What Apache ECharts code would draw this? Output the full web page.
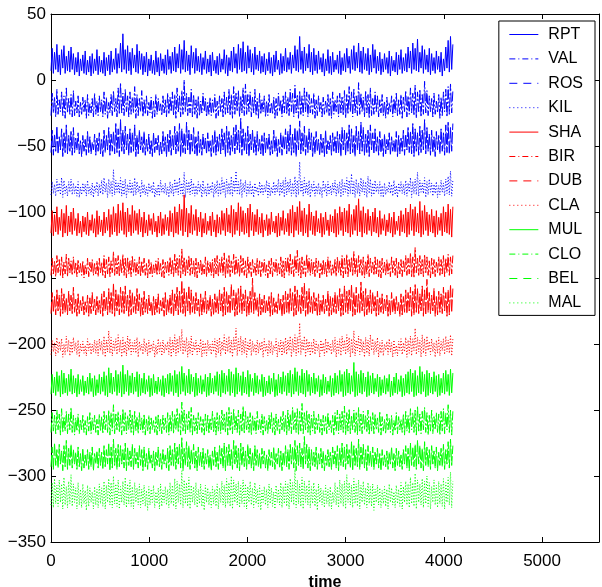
<!DOCTYPE html>
<html>
<head>
<meta charset="utf-8">
<title>Daily wind speed, 12 stations</title>
<script src="https://cdn.jsdelivr.net/npm/echarts@6/dist/echarts.min.js"></script>
<style>
  html, body { margin: 0; padding: 0; background: #fff; }
  #chart { width: 602px; height: 587px; }
</style>
</head>
<body>
<div id="chart"></div>
<script>
// Station names, in plotting order
const stations = ['RPT', 'VAL', 'ROS', 'KIL', 'SHA', 'BIR', 'DUB', 'CLA', 'MUL', 'CLO', 'BEL', 'MAL'];
// Vertical shift applied to each station so the traces do not overlap
const offsets = [0, -30, -60, -90, -120, -150, -180, -210, -240, -270, -300, -330];
// Days between successive samples
const dayStep = 12;

// Wind speed samples (knots) per station
const RPT = [7,24,5,21,8,27,6,19,4,23,9,26,5,18,7,22,6,25,8,20,
4,17,6,21,3,16,7,19,5,22,4,15,6,18,3,20,5,16,7,23,
4,18,6,15,5,21,3,17,7,19,4,22,6,16,8,24,5,20,9,28,
6,35,8,23,5,26,7,21,4,24,9,19,6,27,5,22,8,20,4,18,
6,21,3,16,7,19,5,15,4,22,6,17,3,20,7,16,5,19,4,23,
8,18,5,21,7,25,6,20,9,27,5,23,8,30,6,22,7,19,4,26,
9,21,5,24,7,18,6,20,4,17,8,22,5,16,6,19,3,21,7,15,
5,18,4,20,6,16,8,23,5,19,3,17,7,22,6,25,9,20,5,27,
8,24,6,29,7,21,5,26,9,23,6,20,4,25,8,19,7,22,5,18,
6,20,4,16,7,21,5,17,3,19,6,22,8,15,4,20,5,18,7,24,
6,17,8,21,5,19,9,26,7,23,6,33,8,22,5,25,7,20,9,27,
6,21,4,24,7,19,5,22,8,17,6,20,3,16,7,23,5,18,4,21,
6,15,8,19,5,22,4,17,7,20,6,24,9,18,5,23,8,26,7,21,
9,28,6,22,5,25,8,20,7,24,4,19,6,27,9,23,5,18,7,21,
4,16,6,20,8,17,5,22,3,18,7,15,6,21,4,19,8,23,5,17,
7,20,6,25,9,22,5,28,8,24,7,31,6,21,9,26,5,23,8,19,
6,24,4,20,7,17,5,22,8,18,6,21,3,16,7,25,9,30,6,33,
8,27];
const VAL = [3,20,5,17,2,23,4,15,6,21,3,18,1,24,5,16,4,19,2,22,
3,14,5,18,2,13,4,17,6,15,1,19,3,12,5,16,2,20,4,14,
3,18,6,15,2,21,4,17,1,13,5,19,3,22,6,16,2,24,4,28,
5,20,3,23,6,18,2,21,4,17,5,25,1,19,3,16,6,22,2,15,
4,18,3,13,5,17,1,14,2,19,4,16,6,12,3,18,5,15,2,20,
4,17,6,21,3,19,1,24,5,18,2,22,4,30,6,20,3,17,5,23,
2,19,4,15,1,18,3,14,5,20,6,16,2,13,4,17,3,15,5,19,
1,14,3,18,6,16,2,21,4,17,5,23,3,19,1,25,4,20,6,22,
2,18,5,24,3,27,4,19,6,21,2,17,5,23,3,16,1,20,4,15,
6,18,2,14,3,19,5,13,4,17,1,16,3,20,6,15,2,18,5,21,
4,17,3,23,6,20,2,26,5,19,1,22,4,18,3,24,6,21,2,19,
5,16,4,20,1,15,3,18,6,13,2,17,4,14,5,19,3,16,1,21,
4,15,6,18,2,20,5,17,3,22,1,19,4,25,6,21,2,23,5,18,
3,28,4,20,6,17,2,22,5,19,1,24,3,16,4,21,6,18,2,15,
5,19,3,14,1,17,4,13,6,18,2,16,5,20,3,15,4,19,1,17,
6,22,2,18,4,24,5,20,3,26,1,21,6,23,2,19,4,29,5,22,
3,18,6,16,2,20,4,14,5,19,1,17,3,21,6,23,2,25,4,27,
5,22];
const ROS = [5,22,3,19,6,25,4,17,7,23,2,20,5,26,4,18,6,21,3,24,
5,16,7,20,4,14,2,18,6,15,3,21,5,17,4,13,7,19,3,16,
6,20,4,15,2,22,5,18,7,24,3,19,6,21,4,27,5,23,2,30,
6,22,4,25,7,19,3,23,5,20,6,26,2,18,4,22,7,17,5,21,
3,15,6,19,4,14,2,20,5,16,7,18,3,13,4,21,6,17,2,19,
5,22,3,18,7,25,4,21,6,27,2,23,5,20,4,28,7,22,3,19,
6,24,4,17,2,21,5,15,3,19,7,16,4,20,6,14,2,18,5,22,
3,17,6,19,4,23,7,20,2,25,5,21,3,18,6,24,4,26,7,22,
5,31,3,23,6,20,4,25,2,19,7,22,5,17,3,21,6,15,4,18,
2,20,5,16,7,19,3,14,4,22,6,17,2,15,5,20,3,18,7,23,
4,21,6,26,3,19,5,24,2,22,7,29,4,20,6,25,3,18,5,23,
7,20,2,17,4,21,6,15,3,19,5,16,2,22,4,14,7,18,3,20,
6,17,4,21,5,19,2,24,7,22,3,20,6,26,4,23,5,18,2,25,
7,21,4,28,6,24,3,19,5,22,2,26,7,20,4,23,6,17,3,21,
5,16,2,19,4,15,7,20,3,17,6,14,5,21,2,18,4,16,6,22,
3,19,7,24,5,21,4,27,2,23,6,20,3,25,5,22,7,30,4,24,
6,19,3,22,5,17,2,21,7,18,4,23,6,20,3,26,5,28,4,24,
6,27];
const KIL = [3,13,4,11,2,15,5,12,3,16,1,14,4,10,2,13,5,15,3,12,
4,10,2,13,1,9,3,12,5,11,2,14,4,9,3,12,1,10,5,13,
2,11,4,14,3,16,5,12,1,15,4,13,2,22,3,14,5,12,4,16,
2,13,3,15,1,11,5,14,4,12,2,16,3,13,5,10,1,14,4,11,
3,9,2,12,5,10,4,13,1,8,3,11,2,14,5,10,4,12,3,9,
1,13,4,11,2,15,5,13,3,16,4,12,2,20,1,14,5,13,3,15,
4,12,2,10,3,13,5,11,1,14,4,9,2,12,3,10,5,13,1,11,
4,14,2,12,3,16,5,13,1,15,4,12,3,17,2,14,5,21,4,13,
3,15,1,12,5,14,2,11,4,13,3,10,1,12,5,9,2,13,4,11,
3,10,5,14,1,12,2,9,4,13,3,11,5,15,2,12,4,14,1,16,
3,13,5,15,2,12,4,17,1,14,3,28,5,13,2,16,4,12,3,14,
1,11,5,13,2,10,4,12,3,9,1,14,5,11,2,13,4,10,3,12,
5,14,2,11,4,13,1,15,3,12,5,16,2,14,4,19,3,13,1,15,
4,12,2,16,5,14,3,13,1,17,4,15,2,12,3,14,5,11,4,13,
2,10,1,12,3,9,5,13,4,11,2,14,3,10,1,12,5,13,4,11,
3,14,2,12,5,16,1,13,4,15,3,20,2,14,5,12,4,16,1,13,
3,15,5,12,2,11,4,13,1,10,3,14,5,12,2,15,4,17,3,21,
2,14];
const SHA = [4,21,2,18,5,24,3,16,6,22,1,19,4,25,2,17,5,20,3,23,
6,15,2,19,4,13,1,17,5,16,3,20,2,14,6,18,4,15,1,21,
3,17,5,14,2,20,4,16,6,22,1,18,3,24,5,19,2,26,4,21,
6,27,3,20,1,23,5,18,2,25,4,21,6,19,3,22,5,16,1,20,
4,14,2,18,6,15,3,19,5,13,1,17,4,20,2,15,3,18,6,16,
2,21,5,19,1,24,4,20,3,26,6,22,2,33,5,23,1,19,4,25,
3,18,6,22,2,16,5,20,1,15,4,19,3,13,6,17,2,20,5,14,
1,18,4,16,3,21,6,19,2,23,5,18,4,25,1,22,3,20,6,27,
2,24,5,21,3,19,4,23,1,26,6,20,2,18,5,22,3,16,4,19,
1,14,6,18,2,15,3,20,5,13,4,17,1,19,2,16,6,21,3,15,
5,19,2,22,4,25,1,20,6,24,3,28,5,21,2,23,4,18,1,26,
6,20,3,17,2,21,5,15,4,19,1,16,3,20,6,14,2,18,5,17,
4,22,1,19,3,24,6,20,2,23,5,21,4,26,1,18,3,22,6,25,
2,30,5,21,1,24,4,19,3,22,6,17,2,20,5,23,4,16,1,21,
3,15,6,18,2,14,5,19,4,16,1,20,3,13,6,17,2,21,5,18,
4,23,1,20,3,26,6,22,2,24,5,19,4,28,1,21,3,25,6,20,
2,18,5,22,4,17,1,21,3,16,6,19,2,24,5,20,4,26,3,22,
1,24];
const BIR = [2,15,3,13,1,17,4,14,2,16,0,12,3,18,1,15,4,13,2,16,
3,12,1,14,4,11,2,13,0,10,3,15,1,12,4,14,2,11,3,13,
1,15,4,12,2,17,0,14,3,16,1,13,4,20,2,15,3,17,1,14,
4,18,2,15,0,16,3,13,1,17,4,14,2,12,3,16,1,13,4,15,
2,11,0,14,3,12,1,10,4,13,2,15,3,11,1,14,0,12,4,13,
2,16,3,14,1,18,4,15,2,17,0,22,3,16,1,14,4,17,2,15,
3,13,1,15,0,12,4,14,2,11,3,16,1,13,4,12,2,14,0,15,
3,17,1,14,4,16,2,19,0,15,3,17,1,13,4,18,2,16,3,14,
1,17,4,15,2,13,0,16,3,12,1,14,4,11,2,15,3,13,1,12,
4,14,2,10,0,13,3,15,1,12,4,14,2,11,3,16,1,13,0,15,
4,16,2,18,3,14,1,17,4,21,2,15,0,16,3,13,1,18,4,15,
2,14,3,12,1,15,4,13,0,11,2,14,3,12,1,16,4,13,2,10,
3,14,1,16,4,13,2,17,0,15,3,18,1,14,4,16,2,20,3,15,
1,17,4,14,2,16,0,13,3,18,1,15,4,12,2,16,3,14,1,13,
0,15,4,12,2,14,3,11,1,16,4,13,2,15,0,12,3,14,1,13,
4,17,2,15,3,19,1,16,0,23,4,15,2,17,3,14,1,18,4,16,
2,13,0,15,3,14,1,12,4,16,2,14,3,17,1,15,4,18,2,16,
3,17];
const DUB = [3,19,4,16,2,21,5,17,1,22,3,18,4,15,2,20,5,17,3,23,
4,14,1,18,3,13,5,16,2,12,4,17,1,15,3,19,5,14,2,16,
4,13,3,18,1,20,5,16,2,22,4,19,3,26,1,21,5,18,2,23,
4,20,3,24,5,17,1,21,2,19,4,16,3,22,5,18,1,15,2,20,
4,14,3,17,5,12,1,16,2,14,4,18,3,13,5,15,1,19,2,14,
4,17,3,21,1,18,5,23,2,20,4,28,3,22,1,19,5,24,2,21,
4,16,3,19,5,14,1,18,2,15,4,20,3,13,5,17,1,14,2,18,
4,16,3,21,5,18,1,23,2,20,4,17,3,25,5,21,1,19,2,22,
4,24,3,18,5,21,1,16,2,20,4,30,3,19,5,15,1,18,2,14,
4,17,3,13,5,16,1,19,2,15,4,12,3,18,5,14,1,17,2,20,
4,18,3,22,5,19,1,24,2,21,4,17,3,23,5,26,1,20,2,22,
4,16,3,19,5,15,1,18,2,13,4,17,3,14,5,20,1,16,2,15,
4,19,3,17,5,22,1,18,2,24,4,20,3,21,5,25,1,19,2,23,
4,18,3,27,5,20,1,22,2,17,4,21,3,19,5,16,1,20,2,15,
4,18,3,14,5,17,1,13,2,19,4,15,3,16,5,12,1,18,2,16,
4,21,3,19,5,23,1,20,2,25,4,22,3,18,5,24,1,21,2,29,
4,19,3,17,5,22,1,16,2,20,4,18,3,23,5,19,1,21,2,25,
4,22];
const CLA = [2,13,4,11,1,15,3,12,5,14,0,10,2,16,4,13,1,12,3,15,
5,11,2,13,0,10,4,12,3,9,1,14,5,11,2,10,4,13,3,12,
1,14,5,12,2,16,0,13,4,20,3,15,1,12,5,14,2,17,4,13,
0,15,3,12,1,16,5,14,2,11,4,13,3,15,0,12,5,10,2,14,
4,11,1,13,3,10,5,12,0,9,2,14,4,11,1,13,3,10,5,12,
2,15,0,13,4,17,1,14,3,16,5,21,2,13,4,15,0,12,3,16,
1,11,5,13,2,10,4,14,0,12,3,11,1,13,5,10,2,12,4,14,
0,13,3,15,1,12,5,17,2,14,4,16,3,13,0,15,5,22,1,14,
4,16,2,13,3,15,0,11,5,14,1,12,4,10,2,13,3,11,5,12,
0,14,4,10,1,13,3,12,2,9,5,14,0,11,4,13,1,12,3,15,
2,13,5,16,0,14,4,17,1,15,3,26,2,13,5,16,0,14,4,12,
1,11,3,14,2,12,5,10,0,13,4,11,1,14,3,12,5,10,2,13,
4,15,0,12,3,14,1,16,5,13,2,17,4,15,0,14,3,20,1,13,
5,16,2,14,4,12,0,15,3,13,1,17,5,14,2,12,4,15,0,11,
3,13,1,10,5,12,2,14,4,11,0,13,3,9,1,12,5,14,2,11,
4,15,0,13,3,16,1,14,5,22,2,15,4,13,0,17,3,14,1,16,
5,12,2,14,4,11,0,13,3,15,1,12,5,14,2,16,4,13,3,17,
1,14];
const MUL = [2,17,3,15,1,19,4,16,0,20,2,18,3,14,1,17,4,21,2,16,
3,14,0,17,2,13,4,16,1,12,3,15,2,18,4,14,0,16,1,13,
3,17,2,15,4,19,1,16,0,22,3,18,2,15,4,20,1,17,3,19,
0,24,2,17,4,20,1,16,3,18,2,15,4,19,0,17,1,14,3,18,
2,13,4,16,0,14,1,17,3,12,2,15,4,13,1,16,0,14,3,17,
2,18,4,16,1,20,3,17,0,19,2,23,4,18,1,16,3,21,2,17,
4,15,0,18,1,14,3,16,2,13,4,17,0,15,1,18,3,14,2,16,
4,19,1,17,0,20,3,18,2,16,4,21,1,19,3,17,0,22,2,18,
4,16,1,19,3,15,2,20,0,17,4,14,1,18,3,16,2,13,4,17,
0,15,1,12,3,16,2,14,4,18,0,13,1,17,3,15,2,19,4,16,
1,18,3,20,0,17,2,22,4,19,1,16,3,21,2,18,0,20,4,17,
1,15,3,18,2,14,4,16,0,13,1,17,3,15,2,12,4,16,0,14,
1,18,3,16,2,20,4,17,0,19,1,21,3,18,2,16,4,26,0,19,
1,17,3,20,2,18,4,15,0,19,1,16,3,18,2,14,4,17,0,15,
1,13,3,16,2,14,4,17,0,12,1,15,3,18,2,13,4,16,0,14,
1,17,3,19,2,21,4,18,0,20,1,16,3,23,2,19,4,17,0,20,
1,18,3,15,2,19,4,16,0,17,1,14,3,18,2,20,4,17,1,21,
3,18];
const CLO = [3,18,4,16,2,20,5,17,1,21,3,15,4,19,2,17,5,22,3,16,
1,14,4,17,2,13,5,16,3,12,1,15,4,18,2,14,5,16,3,13,
1,17,4,15,2,19,5,16,3,20,1,18,4,24,2,17,5,19,3,16,
1,21,4,18,2,16,5,20,3,17,1,19,4,15,2,18,5,14,3,17,
1,13,4,16,2,14,5,12,3,15,1,17,4,13,2,16,5,14,3,18,
1,16,4,19,2,17,5,21,3,18,1,26,4,20,2,17,5,19,3,22,
1,16,4,14,2,18,5,15,3,13,1,17,4,16,2,14,5,19,3,15,
1,18,4,16,2,20,5,17,3,19,1,22,4,18,2,21,5,16,3,20,
1,17,4,23,2,19,5,15,3,18,1,16,4,14,2,19,5,13,3,17,
1,15,4,12,2,16,5,18,3,14,1,17,4,13,2,15,5,19,3,16,
1,20,4,17,2,22,5,18,3,21,1,19,4,25,2,18,5,20,3,17,
1,16,4,19,2,14,5,17,3,13,1,16,4,15,2,18,5,12,3,16,
1,18,4,20,2,17,5,19,3,23,1,18,4,21,2,16,5,20,3,18,
1,22,4,17,2,19,5,16,3,20,1,15,4,18,2,17,5,14,3,19,
1,15,4,13,2,17,5,14,3,16,1,12,4,18,2,15,5,13,3,17,
1,19,4,16,2,21,5,18,3,20,1,23,4,17,2,19,5,22,3,18,
1,16,4,20,2,15,5,18,3,17,1,19,4,21,2,18,5,24,3,20,
1,19];
const BEL = [7,22,5,25,8,20,6,24,9,19,4,23,7,27,5,21,8,24,6,20,
9,18,5,22,7,17,4,21,6,16,8,20,5,18,7,22,4,17,9,19,
6,21,8,18,5,23,7,20,9,25,4,22,6,28,8,21,5,24,7,23,
9,20,6,25,4,22,8,19,7,24,5,21,9,18,6,23,8,20,4,22,
7,17,5,21,9,16,6,19,4,18,8,22,7,17,5,20,9,16,6,21,
4,23,8,20,7,25,5,22,9,24,6,29,4,21,8,26,7,23,5,20,
9,24,6,19,4,22,8,18,7,21,5,17,9,20,6,16,4,19,8,22,
7,18,5,23,9,21,6,25,4,22,8,24,7,20,5,27,9,23,6,21,
4,25,8,22,7,19,5,24,9,21,6,18,4,23,8,20,7,17,5,21,
9,19,6,16,4,20,8,18,7,22,5,17,9,21,6,19,4,18,8,23,
7,20,5,24,9,22,6,27,4,23,8,25,7,21,5,30,9,24,6,22,
4,20,8,18,7,22,5,17,9,21,6,19,4,16,8,20,7,18,5,22,
9,19,6,23,4,21,8,25,7,22,5,24,9,20,6,26,4,23,8,21,
7,28,5,22,9,24,6,20,4,23,8,19,7,22,5,18,9,21,6,17,
4,20,8,16,7,19,5,18,9,22,6,17,4,21,8,19,7,16,5,20,
9,23,6,21,4,25,8,22,7,24,5,27,9,23,6,21,4,26,8,22,
7,20,5,23,9,19,6,22,4,18,8,21,7,24,5,20,9,26,6,28,
8,23];
const MAL = [8,25,6,28,9,23,7,27,10,24,5,29,8,22,6,26,9,31,7,24,
10,21,5,25,8,20,6,24,9,19,4,23,7,21,10,18,5,22,8,20,
6,24,9,21,7,26,5,23,10,28,8,25,6,30,9,24,7,27,5,22,
10,26,8,29,6,24,9,27,7,22,5,25,10,21,8,24,6,20,9,23,
7,19,4,22,8,20,10,23,6,18,9,21,5,24,7,19,10,22,8,20,
6,25,9,23,7,28,5,26,10,24,8,34,6,27,9,25,7,29,5,23,
10,22,8,25,6,20,9,24,7,19,4,23,10,21,8,18,6,22,9,20,
7,24,5,21,10,26,8,23,6,28,9,25,7,30,5,27,10,24,8,26,
6,23,9,27,7,24,5,22,10,26,8,21,6,25,9,20,7,23,4,19,
10,22,8,20,6,24,9,21,7,18,5,23,10,20,8,25,6,22,9,26,
7,24,5,28,10,25,8,35,6,27,9,24,7,29,5,26,10,23,8,27,
6,22,9,25,7,20,4,24,10,21,8,19,6,23,9,20,7,22,5,18,
10,25,8,22,6,27,9,24,7,26,5,31,10,25,8,23,6,28,9,24,
7,27,5,23,10,26,8,21,6,25,9,22,7,24,4,20,10,23,8,21,
6,19,9,22,7,20,5,24,10,21,8,18,6,23,9,20,7,25,5,22,
10,26,8,24,6,29,9,25,7,32,5,27,10,24,8,28,6,26,9,30,
7,25,5,22,10,27,8,23,6,26,9,24,7,28,5,25,10,29,8,33,
6,26];

const windSeries = [RPT, VAL, ROS, KIL, SHA, BIR, DUB, CLA, MUL, CLO, BEL, MAL];

// Axis ticks
const xTicks = [0, 1000, 2000, 3000, 4000, 5000];
const yTicks = [-350, -300, -250, -200, -150, -100, -50, 0, 50];

// Line colour per group, and dash pattern per station within a group:
// solid, dash-dot, dashed, dotted. The traces use tighter patterns than the
// legend swatches so the dense zig-zag stays filled in.
const palette = ['#0000ff', '#ff0000', '#00ff00'];
const traceDashes = ['solid', [10, 2, 2, 2], [12, 2], [1, 2]];
const legendDashes = ['solid', [6, 3, 1, 3], [8, 6], [1, 3]];

const FONT = '"Liberation Sans", Arial, Helvetica, sans-serif';

const series = stations.map((name, k) => ({
  name,
  type: 'line',
  xAxisIndex: 0,
  yAxisIndex: 0,
  showSymbol: false,
  symbol: 'none',
  silent: true,
  animation: false,
  sampling: null,
  lineStyle: {
    color: palette[Math.floor(k / 4)],
    width: 1,
    type: traceDashes[k % 4]
  },
  itemStyle: { color: palette[Math.floor(k / 4)] },
  data: windSeries[k].map((v, i) => [i * dayStep, v + offsets[k]])
}));

const xMin = xTicks[0], xMax = 5580, xStep = xTicks[1] - xTicks[0];
const yMin = yTicks[0], yMax = yTicks[yTicks.length - 1], yStep = yTicks[1] - yTicks[0];

const fmtY = v => (v < 0 ? '\u2212' + Math.abs(v) : String(v));
const fmtX = v => (xTicks.indexOf(v) >= 0 ? String(v) : '');

const boxAxis = {
  axisLine: { show: true, onZero: false, lineStyle: { color: '#000', width: 1 } },
  axisTick: { show: true, inside: true, length: 5, lineStyle: { color: '#000', width: 1 } },
  splitLine: { show: false }
};

const chart = echarts.init(document.getElementById('chart'), null, { renderer: 'canvas' });
chart.setOption({
  animation: false,
  backgroundColor: '#fff',
  grid: { left: 51, right: 3, top: 14, bottom: 45, containLabel: false, outerBoundsMode: 'none' },
  legend: {
    data: stations.map((name, k) => ({
      name,
      lineStyle: { type: legendDashes[k % 4], width: 1 }
    })),
    orient: 'vertical',
    right: 7,
    top: 21,
    padding: [5.5, 12, 4.5, 10],
    itemWidth: 29,
    itemHeight: 16,
    itemGap: 8.4,
    backgroundColor: '#fff',
    borderColor: '#000',
    borderWidth: 1,
    borderRadius: 0,
    selectedMode: false,
    itemStyle: { color: 'rgba(0,0,0,0)', borderWidth: 0, opacity: 0 },
    textStyle: { fontFamily: FONT, fontSize: 16, color: '#000', lineHeight: 16, padding: [0, 0, 0, 5] }
  },
  xAxis: [
    Object.assign({
      type: 'value', position: 'bottom', min: xMin, max: xMax, interval: xStep,
      name: 'time', nameLocation: 'middle', nameGap: 30,
      nameTextStyle: { fontFamily: FONT, fontSize: 16, fontWeight: 'bold', color: '#000', verticalAlign: 'top' },
      axisLabel: { show: true, formatter: fmtX, margin: 11, fontFamily: FONT, fontSize: 17, color: '#000', showMaxLabel: false }
    }, boxAxis),
    Object.assign({
      type: 'value', position: 'top', min: xMin, max: xMax, interval: xStep,
      axisLabel: { show: false }
    }, boxAxis)
  ],
  yAxis: [
    Object.assign({
      type: 'value', position: 'left', min: yMin, max: yMax, interval: yStep,
      axisLabel: { show: true, formatter: fmtY, margin: 5, fontFamily: FONT, fontSize: 17, color: '#000' }
    }, boxAxis),
    Object.assign({
      type: 'value', position: 'right', min: yMin, max: yMax, interval: yStep,
      axisLabel: { show: false }
    }, boxAxis)
  ],
  series
});
</script>
</body>
</html>
